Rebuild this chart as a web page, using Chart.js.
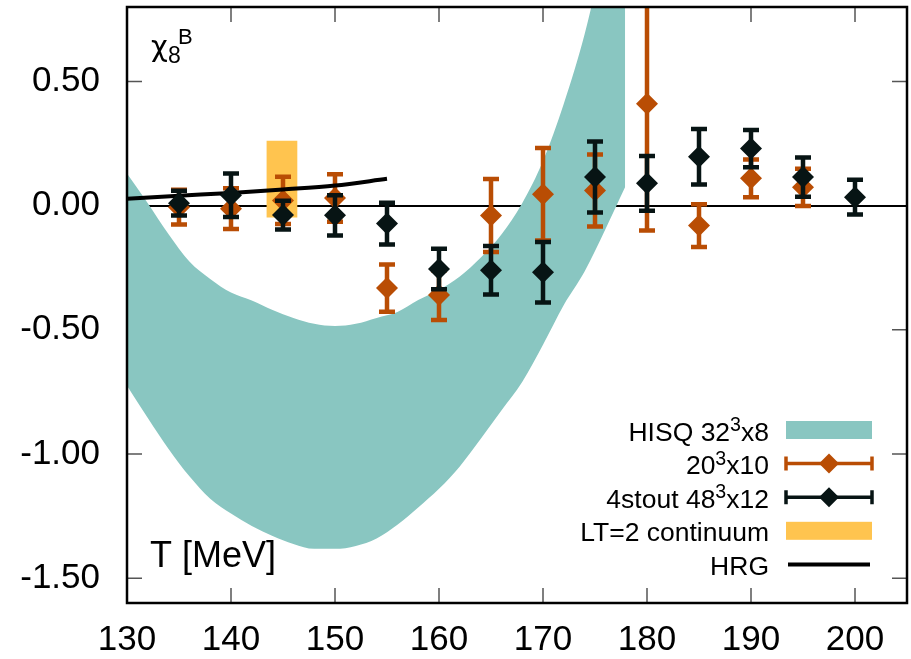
<!DOCTYPE html>
<html>
<head>
<meta charset="utf-8">
<script src="https://cdn.jsdelivr.net/npm/chart.js@4.4.1/dist/chart.umd.min.js"></script>
<style>
  html, body { margin: 0; padding: 0; background: #fff; }
  canvas { display: block; }
</style>
</head>
<body>
<canvas id="chi8Chart" width="911" height="659"></canvas>
<script>
// axis ticks
const tempTicks = [130, 140, 150, 160, 170, 180, 190, 200];
const chiTicks = [-1.5, -1.0, -0.5, 0.0, 0.5];

// 4stout 48^3x12
const stoutT   = [135, 140, 145, 150, 155, 160, 165, 170, 175, 180, 185, 190, 195, 200];
const stoutChi = [0.01, 0.042, -0.038, -0.039, -0.072, -0.255, -0.26, -0.268, 0.115, 0.09, 0.197, 0.23, 0.115, 0.034];
const stoutErr = [0.05, 0.088, 0.058, 0.081, 0.084, 0.082, 0.098, 0.122, 0.143, 0.11, 0.112, 0.075, 0.079, 0.07];

// 20^3x10
const coarseT   = [135, 140, 145, 150, 155, 160, 165, 170, 175, 180, 185, 190, 195];
const coarseChi = [-0.006, -0.012, 0.021, 0.031, -0.332, -0.36, -0.04, 0.046, 0.061, 0.41, -0.08, 0.11, 0.074];
const coarseErr = [0.07, 0.082, 0.095, 0.096, 0.095, 0.1, 0.147, 0.186, 0.145, 0.51, 0.086, 0.076, 0.075];

// HISQ 32^3x8 band, upper and lower edge
const hisqT     = [130, 132, 134, 136, 138, 140, 142, 144, 146, 148, 150, 152, 154, 156, 158, 160, 162, 164, 166, 168, 170, 172, 174, 176, 177.9];
const hisqUpper = [0.13, 0.01, -0.115, -0.225, -0.295, -0.35, -0.382, -0.42, -0.452, -0.476, -0.485, -0.476, -0.452, -0.428, -0.38, -0.34, -0.285, -0.21, -0.116, 0.01, 0.18, 0.41, 0.69, 1.05, 1.4];
const hisqLower = [-0.725, -0.855, -0.98, -1.09, -1.18, -1.24, -1.29, -1.33, -1.362, -1.382, -1.382, -1.37, -1.34, -1.285, -1.215, -1.14, -1.05, -0.94, -0.825, -0.71, -0.56, -0.4, -0.265, -0.095, 0.075];

// LT=2 continuum box
const ltT = [143.4, 146.4];
const ltRange = [-0.048, 0.261];

// HRG curve
const hrgT   = [130, 135, 140, 145, 150, 155];
const hrgChi = [0.028, 0.04, 0.051, 0.065, 0.081, 0.108];

const TEAL = '#89c6c1';
const ORANGE = '#b94d04';
const DARK = '#071414';
const GOLD = '#ffc44f';
const FONT = "'Liberation Sans', Arial, sans-serif";

const pts = (xs, ys) => xs.map((x, i) => ({ x: x, y: ys[i] }));

// vertical error bars, drawn just before the diamonds of the same set
const errorBars = {
    id: 'errorBars',
    beforeDatasetDraw(chart, args) {
        const ds = chart.data.datasets[args.index];
        if (!ds.errors) return;
        const { ctx, chartArea: a, scales: { x, y } } = chart;
        ctx.save();
        ctx.beginPath();
        ctx.rect(a.left, a.top, a.right - a.left, a.bottom - a.top);
        ctx.clip();
        ctx.strokeStyle = ds.backgroundColor;
        ctx.lineWidth = 4.5;
        ds.data.forEach((p, i) => {
            const px = x.getPixelForValue(p.x);
            const top = y.getPixelForValue(p.y + ds.errors[i]);
            const bot = y.getPixelForValue(p.y - ds.errors[i]);
            ctx.beginPath();
            ctx.moveTo(px, top); ctx.lineTo(px, bot);
            ctx.moveTo(px - 8, top); ctx.lineTo(px + 8, top);
            ctx.moveTo(px - 8, bot); ctx.lineTo(px + 8, bot);
            ctx.stroke();
        });
        ctx.restore();
    }
};

// inward ticks on all four sides plus the box around the plot
const frame = {
    id: 'frame',
    beforeDatasetsDraw(chart) {
        const { ctx, chartArea: a, scales: { x, y } } = chart;
        ctx.save();
        ctx.strokeStyle = '#555';
        ctx.lineWidth = 1.5;
        ctx.beginPath();
        tempTicks.forEach(t => {
            const px = x.getPixelForValue(t);
            ctx.moveTo(px, a.bottom); ctx.lineTo(px, a.bottom - 15);
            ctx.moveTo(px, a.top); ctx.lineTo(px, a.top + 15);
        });
        chiTicks.forEach(v => {
            if (v === 0) return; // the zero line already runs along here
            const py = y.getPixelForValue(v);
            ctx.moveTo(a.left, py); ctx.lineTo(a.left + 15, py);
            ctx.moveTo(a.right, py); ctx.lineTo(a.right - 15, py);
        });
        ctx.stroke();
        ctx.restore();
    },
    afterDatasetsDraw(chart) {
        const { ctx, chartArea: a } = chart;
        ctx.save();
        ctx.strokeStyle = '#000';
        ctx.lineWidth = 2.5;
        ctx.strokeRect(a.left, a.top, a.right - a.left, a.bottom - a.top);
        ctx.restore();
    }
};

// text with raised pieces, right aligned at x
function drawRich(ctx, parts, x, y, size) {
    const fontOf = p => p.sup ? `${size * 0.74}px ${FONT}` : `${size}px ${FONT}`;
    let w = 0;
    parts.forEach(p => { ctx.font = fontOf(p); w += ctx.measureText(p.t).width; });
    let cx = x - w;
    ctx.textAlign = 'left';
    parts.forEach(p => {
        ctx.font = fontOf(p);
        ctx.fillText(p.t, cx, p.sup ? y - size * 0.36 : y);
        cx += ctx.measureText(p.t).width;
    });
}

// axis titles and the key in the lower right corner
const labels = {
    id: 'labels',
    afterDraw(chart) {
        const ctx = chart.ctx;
        ctx.save();
        ctx.fillStyle = '#000';
        ctx.textBaseline = 'alphabetic';
        ctx.textAlign = 'left';

        ctx.font = `29px 'DejaVu Sans', sans-serif`;
        ctx.fillText('χ', 151, 56);
        ctx.font = `23px ${FONT}`;
        ctx.fillText('8', 168, 63);
        ctx.font = `22px ${FONT}`;
        ctx.fillText('B', 178, 44);

        ctx.font = `36px ${FONT}`;
        ctx.fillText('T [MeV]', 150, 567);

        const rows = [
            [{ t: 'HISQ 32' }, { t: '3', sup: true }, { t: 'x8' }],
            [{ t: '20' }, { t: '3', sup: true }, { t: 'x10' }],
            [{ t: '4stout 48' }, { t: '3', sup: true }, { t: 'x12' }],
            [{ t: 'LT=2 continuum' }],
            [{ t: 'HRG' }]
        ];
        const x0 = 786, x1 = 872;
        rows.forEach((parts, i) => {
            const cy = 430 + i * 33.6;
            ctx.fillStyle = '#000';
            drawRich(ctx, parts, 769, cy + 10.5, 26.5);
            if (i === 0 || i === 3) {
                ctx.fillStyle = i === 0 ? TEAL : GOLD;
                ctx.fillRect(x0, cy - 9, x1 - x0, 18);
            } else if (i === 4) {
                ctx.strokeStyle = '#000';
                ctx.lineWidth = 4;
                ctx.beginPath(); ctx.moveTo(x0 + 2, cy); ctx.lineTo(x1 - 2, cy); ctx.stroke();
            } else {
                const c = i === 1 ? ORANGE : DARK;
                ctx.strokeStyle = c;
                ctx.fillStyle = c;
                ctx.lineWidth = 3.5;
                ctx.beginPath();
                ctx.moveTo(x0, cy); ctx.lineTo(x1, cy);
                ctx.moveTo(x0, cy - 7); ctx.lineTo(x0, cy + 7);
                ctx.moveTo(x1, cy - 7); ctx.lineTo(x1, cy + 7);
                ctx.stroke();
                const mx = (x0 + x1) / 2;
                ctx.beginPath();
                ctx.moveTo(mx, cy - 10); ctx.lineTo(mx + 10, cy);
                ctx.lineTo(mx, cy + 10); ctx.lineTo(mx - 10, cy);
                ctx.closePath(); ctx.fill();
            }
        });
        ctx.restore();
    }
};

const lineBase = { showLine: true, pointRadius: 0, borderWidth: 0, cubicInterpolationMode: 'monotone' };

// higher order is drawn first (further back)
new Chart(document.getElementById('chi8Chart'), {
    type: 'scatter',
    data: {
        datasets: [
            { ...lineBase, order: 7, label: 'HISQ upper', data: pts(hisqT, hisqUpper), backgroundColor: TEAL, fill: '+1' },
            { ...lineBase, order: 6, label: 'HISQ lower', data: pts(hisqT, hisqLower), backgroundColor: TEAL, fill: false },
            { ...lineBase, order: 5, label: 'LT top', data: pts(ltT, [ltRange[1], ltRange[1]]), backgroundColor: GOLD, fill: '+1', cubicInterpolationMode: 'default' },
            { ...lineBase, order: 4, label: 'LT bottom', data: pts(ltT, [ltRange[0], ltRange[0]]), backgroundColor: GOLD, fill: false, cubicInterpolationMode: 'default' },
            { order: 3, label: '20³x10', data: pts(coarseT, coarseChi), errors: coarseErr, backgroundColor: ORANGE, pointStyle: 'rectRot', pointRadius: 11, pointBorderWidth: 0 },
            { ...lineBase, order: 2, label: 'HRG', data: pts(hrgT, hrgChi), borderColor: '#000', borderWidth: 4, fill: false },
            { order: 1, label: '4stout 48³x12', data: pts(stoutT, stoutChi), errors: stoutErr, backgroundColor: DARK, pointStyle: 'rectRot', pointRadius: 11, pointBorderWidth: 0 }
        ]
    },
    options: {
        responsive: false,
        animation: false,
        events: [],
        layout: { autoPadding: false, padding: { top: 7, right: 4, left: 0, bottom: 0 } },
        plugins: { legend: { display: false }, tooltip: { enabled: false } },
        scales: {
            x: {
                type: 'linear', min: 130, max: 205,
                afterBuildTicks: s => { s.ticks = tempTicks.map(v => ({ value: v })); },
                afterFit: s => { s.height = 56; s.paddingLeft = 0; s.paddingRight = 0; },
                grid: { display: false, drawTicks: false },
                border: { display: false },
                ticks: { color: '#000', padding: 16, font: { family: FONT, size: 35 }, maxRotation: 0 }
            },
            y: {
                type: 'linear', min: -1.6, max: 0.8,
                afterBuildTicks: s => { s.ticks = chiTicks.map(v => ({ value: v })); },
                afterFit: s => { s.width = 127; s.paddingTop = 0; s.paddingBottom = 0; },
                grid: { drawTicks: false, lineWidth: 2, color: c => c.tick && c.tick.value === 0 ? '#000' : 'rgba(0,0,0,0)' },
                border: { display: false },
                ticks: { color: '#000', padding: 27, font: { family: FONT, size: 35 }, callback: v => v.toFixed(2) }
            }
        }
    },
    plugins: [errorBars, frame, labels]
});
</script>
</body>
</html>
